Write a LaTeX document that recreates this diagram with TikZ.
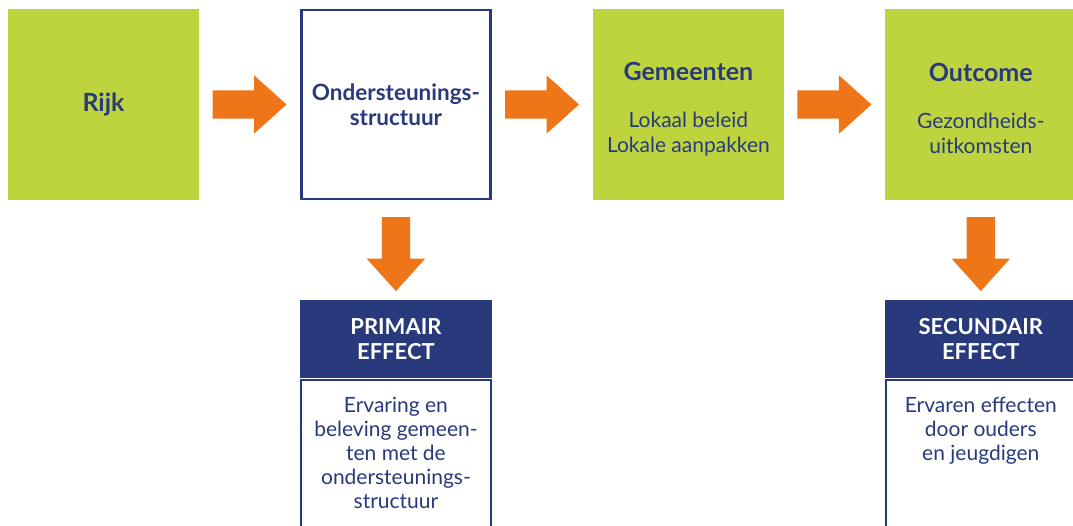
\documentclass[tikz,border=0pt]{standalone}
\usepackage{fontspec}
\setmainfont{Lato}
\usepackage{xcolor}
\usepackage{tikz}
\usetikzlibrary{shapes.arrows,positioning}

\definecolor{limegreen}{HTML}{BED43F}
\definecolor{navyblue}{HTML}{283A7C}
\definecolor{arroworange}{HTML}{EE7619}

\begin{document}
\begin{tikzpicture}[x=1pt, y=-1pt,
    node distance=101pt,
    greenbox/.style={rectangle, fill=limegreen, text=navyblue, align=center, inner sep=0pt, minimum width=191pt, minimum height=191pt, font=\fontsize{21}{25}\selectfont},
    boxtext/.style={text=navyblue, align=center, inner sep=0pt, font=\fontsize{21}{25}\selectfont},
    framebox/.style={rectangle, draw=navyblue, line width=2.5pt, fill=white, text=navyblue, align=center, inner sep=0pt, minimum width=189pt, minimum height=189pt, font=\bfseries\fontsize{22.5}{25}\selectfont},
    headbox/.style={rectangle, fill=navyblue, text=white, align=center, inner sep=0pt, minimum width=192pt, minimum height=78pt, font=\bfseries\fontsize{22}{25}\selectfont},
    bodybox/.style={rectangle, draw=navyblue, line width=2pt, fill=white, inner sep=0pt, minimum width=190pt, minimum height=200pt},
    bodytext/.style={text=navyblue, align=center, inner sep=0pt, font=\fontsize{21}{24}\selectfont},
    titlefont/.style={font=\bfseries\fontsize{25}{28}\selectfont},
    blockarrow/.style={single arrow, fill=arroworange, inner xsep=0pt, inner ysep=14pt, minimum height=74pt, minimum width=58pt, single arrow head extend=15pt, single arrow tip angle=84}
]

\useasboundingbox (0,0) rectangle (1073,526);

% top row
\node [greenbox, titlefont] (rijk) at (103.5,104.5) {Rijk};
\node [framebox, right=of rijk] (onder) {Ondersteunings-\\structuur};
\node [greenbox, right=of onder] (gemeenten) {};
\node [greenbox, right=of gemeenten] (outcome) {};
\node [boxtext] (gemeententekst) at ([yshift=-5pt]gemeenten.center) {{\bfseries\fontsize{25}{28}\selectfont Gemeenten}\\[22pt]Lokaal beleid\\Lokale aanpakken};
\node [boxtext] (outcometekst) at ([yshift=-4pt]outcome.center) {{\bfseries\fontsize{25}{28}\selectfont Outcome}\\[22pt]Gezondheids-\\uitkomsten};

% effect boxes
\node [headbox, below=100pt of onder] (primair) {PRIMAIR\\EFFECT};
\node [bodybox, below=0pt of primair] (primairvak) {};
\node [bodytext, below=18pt of primair] (primairtekst) {Ervaring en\\beleving gemeen-\\ten met de\\ondersteunings-\\structuur};

\node [headbox, below=100pt of outcome] (secundair) {SECUNDAIR\\EFFECT};
\node [bodybox, below=0pt of secundair] (secundairvak) {};
\node [bodytext, below=18pt of secundair] (secundairtekst) {Ervaren effecten\\door ouders\\en jeugdigen};

% arrows
\path (rijk) -- node [blockarrow, pos=0.42] (pijl1) {} (onder);
\path (onder) -- node [blockarrow, pos=0.42] (pijl2) {} (gemeenten);
\path (gemeenten) -- node [blockarrow, pos=0.42] (pijl3) {} (outcome);
\path (onder) -- node [blockarrow, pos=0.46, rotate=-90] (pijl4) {} (primair);
\path (outcome) -- node [blockarrow, pos=0.46, rotate=-90] (pijl5) {} (secundair);

\end{tikzpicture}
\end{document}
